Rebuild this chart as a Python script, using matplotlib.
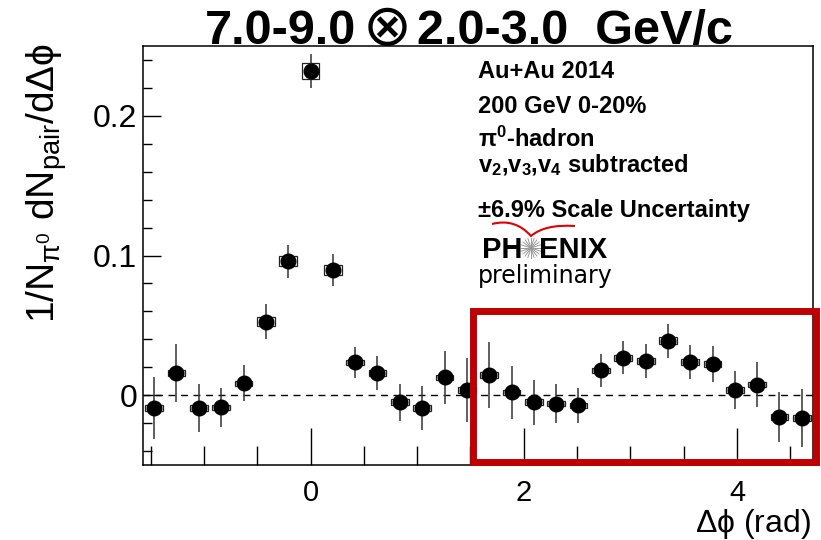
import numpy as np
import matplotlib
matplotlib.use("Agg")
import matplotlib.pyplot as plt
from matplotlib.patches import Rectangle, PathPatch
from matplotlib.path import Path
from matplotlib.lines import Line2D

# ── data ─────────────────────────────────────────────────────────────────
dphi = [-1.466, -1.257, -1.047, -0.838, -0.628, -0.419, -0.209, 0.000,
        0.209, 0.419, 0.628, 0.838, 1.047, 1.257, 1.466, 1.676,
        1.885, 2.094, 2.304, 2.513, 2.723, 2.932, 3.142, 3.351,
        3.560, 3.770, 3.979, 4.189, 4.398, 4.608]
yield_ = [-0.0092, 0.0159, -0.0092, -0.0088, 0.0085, 0.0527, 0.0958, 0.2323,
          0.0896, 0.0234, 0.0159, -0.0051, -0.0092, 0.0127, 0.0039, 0.0146,
          0.0020, -0.0051, -0.0061, -0.0073, 0.0177, 0.0268, 0.0246, 0.0389,
          0.0237, 0.0225, 0.0038, 0.0075, -0.0156, -0.0163]
stat_err = [0.0224, 0.0210, 0.0175, 0.0140, 0.0130, 0.0124, 0.0116, 0.0123,
            0.0115, 0.0110, 0.0123, 0.0133, 0.0156, 0.0190, 0.0230, 0.0238,
            0.0190, 0.0163, 0.0140, 0.0125, 0.0120, 0.0120, 0.0120, 0.0120,
            0.0120, 0.0130, 0.0137, 0.0160, 0.0180, 0.0210]
sys_err = [0.0020, 0.0020, 0.0020, 0.0020, 0.0020, 0.0030, 0.0035, 0.0056,
           0.0035, 0.0020, 0.0020, 0.0020, 0.0020, 0.0020, 0.0020, 0.0020,
           0.0020, 0.0020, 0.0020, 0.0020, 0.0020, 0.0020, 0.0020, 0.0025,
           0.0020, 0.0020, 0.0020, 0.0020, 0.0020, 0.0020]
box_halfwidth = 0.084

title_left = "7.0-9.0"
title_sym = "\u2297"
title_right = "2.0-3.0  GeV/c"
info_lines = ["Au+Au 2014",
              "200 GeV 0-20%",
              r"$\pi^{0}$-hadron",
              r"v$_{2}$,v$_{3}$,v$_{4}$ subtracted",
              "\u00b16.9% Scale Uncertainty"]
info_baselines = [78, 113, 147, 172, 217]   # pixel rows from top

plt.rcParams.update({
    "font.family": ["Liberation Sans", "DejaVu Sans"],
    "mathtext.default": "regular",
    "axes.linewidth": 1.1,
})

W, H = 821, 540
fig = plt.figure(figsize=(W / 100, H / 100), dpi=100)
ax = fig.add_axes([143 / W, 75 / H, 670 / W, 419 / H])

def px(x, y):
    """pixel (from top-left) -> figure fraction"""
    return x / W, 1 - y / H

# dashed zero line
ax.axhline(0, color="black", lw=1.0, ls=(0, (5, 4)), zorder=1)

# systematic boxes
for x, y, s in zip(dphi, yield_, sys_err):
    ax.add_patch(Rectangle((x - box_halfwidth, y - s), 2 * box_halfwidth, 2 * s,
                           fill=False, ec="#222222", lw=0.9, zorder=2))

ax.errorbar(dphi, yield_, yerr=stat_err, fmt="o", color="black",
            ecolor="#333333", elinewidth=1.1, capsize=0, ms=10.5, zorder=3)

ax.set_xlim(-np.pi / 2, 3 * np.pi / 2)
ax.set_ylim(-0.05, 0.25)
ax.set_xticks([0, 2, 4])
ax.set_xticks(np.arange(-1.5, 4.6, 0.5), minor=True)
ax.set_yticks([0, 0.1, 0.2])
ax.set_yticklabels(["0", "0.1", "0.2"])
ax.set_yticks(np.arange(-0.04, 0.25, 0.02), minor=True)
ax.tick_params(axis="x", which="major", direction="in", length=27, width=1,
               labelsize=21, pad=10, top=False)
ax.tick_params(axis="x", which="minor", direction="in", length=13.5, width=1, top=False)
ax.tick_params(axis="y", which="major", direction="in", length=13, width=1,
               labelsize=23, pad=4, right=False)
ax.tick_params(axis="y", which="minor", direction="in", length=6.5, width=1, right=False)

# highlight box
ax.add_patch(Rectangle((1.525, -0.0475), 4.744 - 1.525, 0.0601 + 0.0475,
                       fill=False, ec="#C00000", lw=5.0, clip_on=False, zorder=5))

# title (the circled-times sign is drawn thin, as in the original)
fig.text(*px(356, 44), title_left, ha="right", va="baseline", fontsize=35,
         fontweight="bold")
fig.text(*px(387, 28), title_sym, ha="center", va="center", fontsize=42,
         family=["DejaVu Sans"], fontweight="normal")
fig.text(*px(417, 44), title_right, ha="left", va="baseline", fontsize=35,
         fontweight="bold")

fig.text(*px(47, 183), r"1/N$_{\pi^{0}}$ dN$_{pair}$/d$\Delta\phi$",
         rotation=90, ha="center", va="center", fontsize=28)
fig.text(*px(811, 541), r"$\Delta\phi$ (rad)", ha="right", va="bottom",
         fontsize=23)

# info block
for line, yb in zip(info_lines, info_baselines):
    fig.text(*px(478, yb), line, ha="left", va="baseline", fontsize=17,
             fontweight="bold")

# PHENIX logo
fig.text(*px(523, 258), "PH", ha="right", va="baseline", fontsize=21,
         fontweight="bold")
fig.text(*px(539, 258), "ENIX", ha="left", va="baseline", fontsize=21,
         fontweight="bold")
cx, cy = 531, 248
for a in np.linspace(0, np.pi, 10, endpoint=False):
    dx, dy = 10 * np.cos(a), 10 * np.sin(a)
    fig.add_artist(Line2D([(cx - dx) / W, (cx + dx) / W],
                          [1 - (cy - dy) / H, 1 - (cy + dy) / H],
                          transform=fig.transFigure, color="#999999", lw=0.7))
verts = [px(492, 224), px(515, 218), px(531, 236),
         px(545, 224), px(575, 226)]
codes = [Path.MOVETO, Path.CURVE3, Path.CURVE3, Path.CURVE3, Path.CURVE3]
fig.add_artist(PathPatch(Path(verts, codes), fill=False, ec="#E00000", lw=1.5,
                         transform=fig.transFigure))
fig.text(*px(478, 283), "preliminary", ha="left", va="baseline", fontsize=17,
         family="DejaVu Sans")

fig.savefig("out.png", dpi=100)
